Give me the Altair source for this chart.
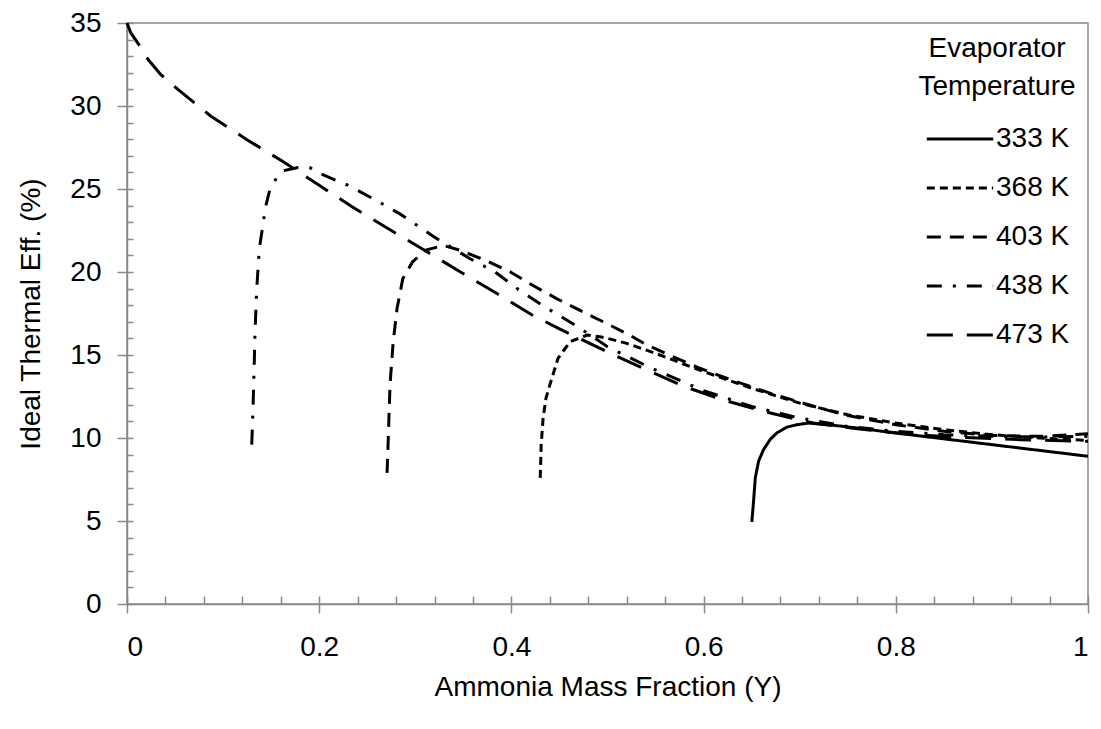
import altair as alt
import pandas as pd

temps = ["333 K", "368 K", "403 K", "438 K", "473 K"]

x_333 = [0.6502, 0.6520, 0.6538, 0.6572, 0.6624, 0.6691, 0.6761, 0.6865, 0.6969, 0.709,
         0.73, 0.76, 0.80, 0.85, 0.90, 0.95, 1.0]
y_333 = [4.95, 6.2, 7.6, 8.6, 9.3, 9.9, 10.3, 10.65, 10.8, 10.9,
         10.8, 10.6, 10.3, 9.95, 9.6, 9.25, 8.9]

x_368 = [0.430, 0.431, 0.433, 0.436, 0.440, 0.4485, 0.461, 0.479, 0.492, 0.50, 0.52,
         0.55, 0.60, 0.65, 0.70, 0.75, 0.80, 0.85, 0.90, 0.95, 1.0]
y_368 = [7.6, 9.6, 11.2, 12.4, 13.2, 14.8, 15.8, 16.2, 16.1, 16.0, 15.7,
         15.1, 14.0, 13.0, 12.1, 11.4, 10.9, 10.5, 10.2, 10.0, 9.85]

x_403 = [0.2706, 0.2712, 0.2720, 0.2737, 0.277, 0.281, 0.287, 0.297, 0.310, 0.329,
         0.347, 0.373, 0.399, 0.422, 0.447, 0.471, 0.499, 0.523, 0.541, 0.568,
         0.596, 0.624, 0.669, 0.721, 0.75, 0.80, 0.85, 0.90, 0.95, 1.0]
y_403 = [7.9, 8.8, 10.2, 13.2, 15.8, 17.8, 19.6, 20.6, 21.3, 21.6,
         21.3, 20.7, 20.0, 19.2, 18.4, 17.7, 16.9, 16.2, 15.6, 14.9,
         14.2, 13.6, 12.7, 11.8, 11.35, 10.8, 10.4, 10.15, 10.1, 10.25]

x_438 = [0.1298, 0.1308, 0.1321, 0.1332, 0.1349, 0.1377, 0.1443, 0.1488, 0.1560, 0.1627,
         0.178, 0.190, 0.200, 0.231, 0.263, 0.284, 0.297, 0.320, 0.357, 0.383,
         0.406, 0.432, 0.469, 0.50, 0.544, 0.60, 0.65, 0.70, 0.75, 0.80,
         0.85, 0.90, 0.95, 1.0]
y_438 = [9.6, 11.2, 13.8, 16.3, 18.9, 21.4, 23.95, 25.0, 25.7, 26.1,
         26.3, 26.3, 25.95, 25.2, 24.2, 23.5, 23.0, 22.1, 20.8, 20.0,
         19.0, 18.0, 16.7, 15.5, 14.25, 12.85, 11.9, 11.2, 10.7, 10.4,
         10.2, 10.1, 10.05, 10.1]

x_473 = [0.0, 0.004, 0.0135, 0.022, 0.035, 0.053, 0.087, 0.124, 0.161, 0.198,
         0.235, 0.272, 0.310, 0.347, 0.385, 0.422, 0.449, 0.503, 0.541, 0.58,
         0.62, 0.666, 0.714, 0.76, 0.81, 0.86, 0.93, 1.0]
y_473 = [35.0, 34.4, 33.6, 32.8, 31.9, 31.0, 29.4, 28.0, 26.7, 25.3,
         23.9, 22.6, 21.3, 20.0, 18.7, 17.4, 16.6, 15.1, 14.1, 13.1,
         12.3, 11.55, 10.9, 10.55, 10.25, 10.05, 9.9, 9.8]

x_major = [0, 0.2, 0.4, 0.6, 0.8, 1.0]
x_minor = [0, 0.04, 0.08, 0.12, 0.16, 0.2, 0.24, 0.28, 0.32, 0.36, 0.4, 0.44, 0.48,
           0.52, 0.56, 0.6, 0.64, 0.68, 0.72, 0.76, 0.8, 0.84, 0.88, 0.92, 0.96, 1.0]
y_major = [0, 5, 10, 15, 20, 25, 30, 35]
y_minor = list(range(0, 36))

dashes = [[1, 0], [8, 5], [14, 9], [15, 11, 3, 11], [26, 14]]

rows = []
for t, xs, ys in zip(temps, [x_333, x_368, x_403, x_438, x_473],
                     [y_333, y_368, y_403, y_438, y_473]):
    for i, (a, b) in enumerate(zip(xs, ys)):
        rows.append({"T": t, "x": a, "y": b, "i": i})
df = pd.DataFrame(rows)

FONT = "Liberation Sans"
GRAY = "#8a8a8a"
FS = 28

xscale = alt.Scale(domain=[0, 1], nice=False, zero=False)
yscale = alt.Scale(domain=[0, 35], nice=False)

legend = alt.Legend(
    title=["Evaporator", "Temperature"], orient="top-right", offset=12,
    symbolType="stroke", symbolSize=4400, symbolStrokeWidth=3,
    symbolStrokeColor="black", labelFontSize=FS, titleFontSize=FS,
    titleFontWeight="normal", titleAnchor="middle", titleAlign="center",
    titleLineHeight=38, rowPadding=0, labelOffset=1, padding=0, titlePadding=3,
)

lines = alt.Chart(df).mark_line(color="black", strokeWidth=3, strokeCap="butt").encode(
    x=alt.X("x:Q", scale=xscale,
            axis=alt.Axis(orient="bottom", values=x_major, format="~g",
                          title="Ammonia Mass Fraction (Y)", tickSize=9,
                          labelPadding=20, titlePadding=12, grid=False)),
    y=alt.Y("y:Q", scale=yscale,
            axis=alt.Axis(orient="left", values=y_major, tickSize=10,
                          labelPadding=16, title="Ideal Thermal Eff. (%)",
                          titlePadding=24, grid=False)),
    strokeDash=alt.StrokeDash("T:N", scale=alt.Scale(domain=temps, range=dashes),
                              legend=legend),
    order="i:Q",
)

minor = alt.Chart(df).mark_point(opacity=0).encode(
    x=alt.X("x:Q", scale=xscale,
            axis=alt.Axis(orient="bottom", values=x_minor, offset=-8, tickSize=8,
                          labels=False, domain=False, title="", grid=False)),
    y=alt.Y("y:Q", scale=yscale,
            axis=alt.Axis(orient="left", values=y_minor, offset=-6, tickSize=6,
                          labels=False, domain=False, title="", grid=False)),
)

chart = alt.layer(lines, minor).resolve_axis(x="independent", y="independent").properties(
    width=961, height=581, autosize="none",
    padding={"left": 119, "top": 15, "right": 5, "bottom": 110},
).configure_axis(
    labelFont=FONT, titleFont=FONT, labelFontSize=FS, titleFontSize=FS,
    labelColor="black", titleColor="black", titleFontWeight="normal",
    domainColor=GRAY, tickColor=GRAY, domainWidth=1.5, tickWidth=1.5,
).configure_legend(
    labelFont=FONT, titleFont=FONT, labelColor="black", titleColor="black",
).configure_view(stroke=GRAY, strokeWidth=1.5)

chart.save("out.html", embed_options={"renderer": "svg", "actions": False})
